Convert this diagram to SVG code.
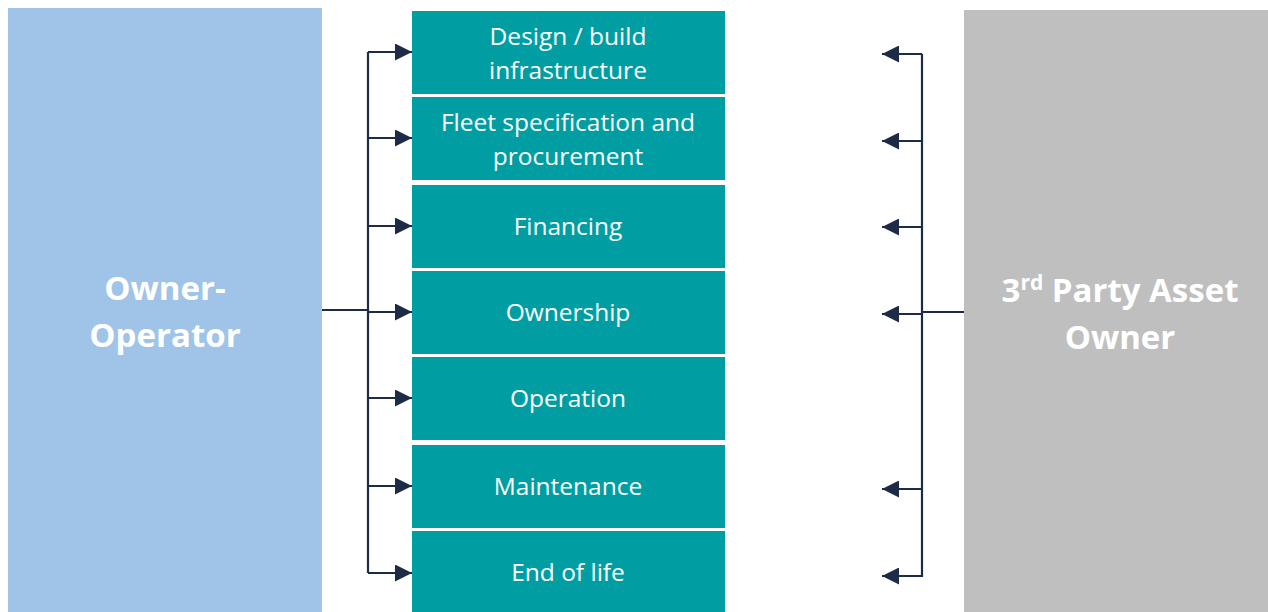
<svg xmlns="http://www.w3.org/2000/svg" width="1268" height="612" viewBox="0 0 1268 612">
<defs>
<style>
.teal{fill:#009EA3}
.lbl{font-family:"Open Sans","Liberation Sans",sans-serif;font-size:24.5px;fill:#fff;text-anchor:middle}
.big{font-family:"Open Sans","Liberation Sans",sans-serif;font-size:33px;font-weight:bold;fill:#fff;text-anchor:middle}
.con{stroke:#1D2B47;stroke-width:2.2;fill:none}
</style>
<marker id="ah" viewBox="0 0 10 10" refX="10" refY="5" markerWidth="18" markerHeight="17" markerUnits="userSpaceOnUse" orient="auto">
<path d="M0,0 L10,5 L0,10 Z" fill="#1D2B47"/>
</marker>
</defs>
<rect width="1268" height="612" fill="#fff"/>
<g id="owner-operator">
<rect x="8" y="8" width="314" height="604" fill="#A0C4E7"/>
<text class="big" x="165" y="300">Owner-</text>
<text class="big" x="165" y="347">Operator</text>
</g>
<g id="third-party">
<rect x="964" y="10" width="304" height="602" fill="#BFBFBF"/>
<text class="big" x="1120" y="302">3<tspan font-size="21" dy="-12">rd</tspan><tspan dy="12"> Party Asset</tspan></text>
<text class="big" x="1120" y="349">Owner</text>
</g>
<g id="design">
<rect class="teal" x="412" y="11" width="313" height="83"/>
<text class="lbl" x="568" y="45">Design / build</text>
<text class="lbl" x="568" y="79">infrastructure</text>
</g>
<g id="fleet">
<rect class="teal" x="412" y="97" width="313" height="83"/>
<text class="lbl" x="568" y="131">Fleet specification and</text>
<text class="lbl" x="568" y="165">procurement</text>
</g>
<g id="financing">
<rect class="teal" x="412" y="185" width="313" height="83"/>
<text class="lbl" x="568" y="235">Financing</text>
</g>
<g id="ownership">
<rect class="teal" x="412" y="271" width="313" height="83"/>
<text class="lbl" x="568" y="321">Ownership</text>
</g>
<g id="operation">
<rect class="teal" x="412" y="357" width="313" height="83"/>
<text class="lbl" x="568" y="407">Operation</text>
</g>
<g id="maintenance">
<rect class="teal" x="412" y="445" width="313" height="83"/>
<text class="lbl" x="568" y="495">Maintenance</text>
</g>
<g id="end-of-life">
<rect class="teal" x="412" y="531" width="313" height="81"/>
<text class="lbl" x="568" y="581">End of life</text>
</g>
<g id="connectors">
<path class="con" d="M322,310 H368 M368,52 V573"/>
<path class="con" marker-end="url(#ah)" d="M368,52 H412"/>
<path class="con" marker-end="url(#ah)" d="M368,138 H412"/>
<path class="con" marker-end="url(#ah)" d="M368,226 H412"/>
<path class="con" marker-end="url(#ah)" d="M368,312 H412"/>
<path class="con" marker-end="url(#ah)" d="M368,398 H412"/>
<path class="con" marker-end="url(#ah)" d="M368,486 H412"/>
<path class="con" marker-end="url(#ah)" d="M368,573 H412"/>
<path class="con" d="M964,312 H922 M922,54 V577"/>
<path class="con" marker-end="url(#ah)" d="M922,54 H882"/>
<path class="con" marker-end="url(#ah)" d="M922,141 H882"/>
<path class="con" marker-end="url(#ah)" d="M922,227 H882"/>
<path class="con" marker-end="url(#ah)" d="M922,314 H882"/>
<path class="con" marker-end="url(#ah)" d="M922,489 H882"/>
<path class="con" marker-end="url(#ah)" d="M922,576 H882"/>
</g>
</svg>
